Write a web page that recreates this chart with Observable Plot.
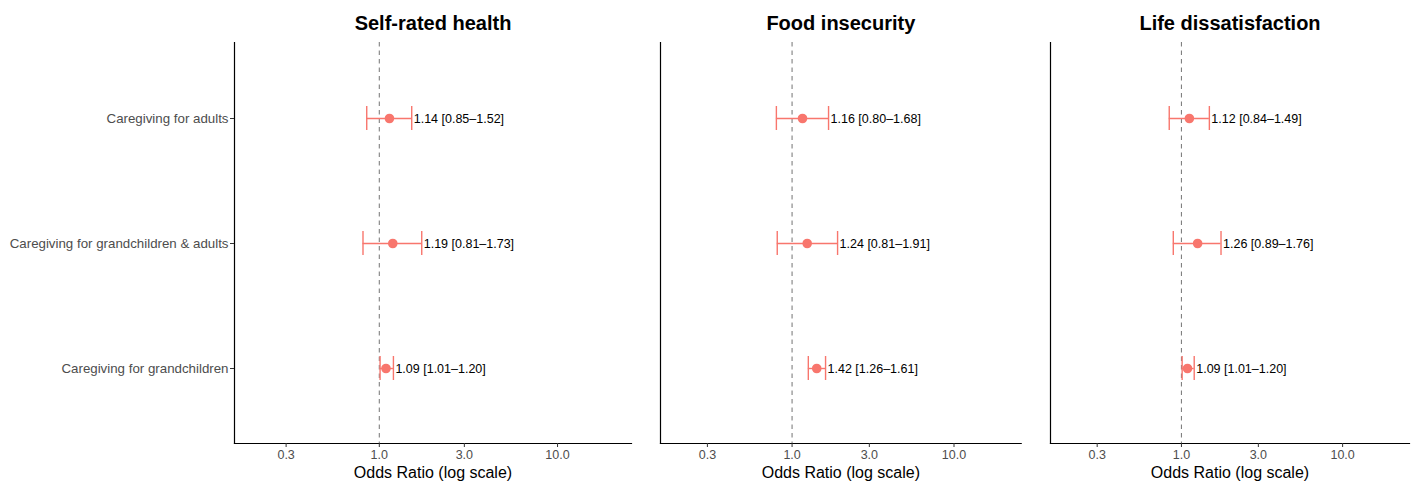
<!DOCTYPE html>
<html>
<head>
<meta charset="utf-8">
<script src="https://cdn.jsdelivr.net/npm/d3@7"></script>
<script src="https://cdn.jsdelivr.net/npm/@observablehq/plot@0.6"></script>
<style>
  html, body { margin: 0; padding: 0; background: #fff; }
  #wrap { position: relative; width: 1414px; height: 483px; overflow: hidden; background: #fff; }
  .panel { position: absolute; top: 0; }
  svg { overflow: visible; }
</style>
</head>
<body>
<div id="wrap"></div>
<script>
// ---- data ----
const outcomes = ["Self-rated health", "Food insecurity", "Life dissatisfaction"];
const categories = [
  "Caregiving for adults",
  "Caregiving for grandchildren & adults",
  "Caregiving for grandchildren"
];
const oddsRatio = [[1.14, 1.19, 1.09], [1.16, 1.24, 1.42], [1.12, 1.26, 1.09]];
const ciLower   = [[0.85, 0.81, 1.01], [0.80, 0.81, 1.26], [0.84, 0.89, 1.01]];
const ciUpper   = [[1.52, 1.73, 1.20], [1.68, 1.91, 1.61], [1.49, 1.76, 1.20]];
const xTicks = [0.3, 1, 3, 10];
const xTitle = "Odds Ratio (log scale)";

// ---- layout ----
const FONT = "'Liberation Sans', Arial, Helvetica, sans-serif";
const RED = "#F8766D";
const panels = [
  {left: 0,    width: 640, marginLeft: 234, marginRight: 9,   yLabels: true},
  {left: 640,  width: 390, marginLeft: 20,  marginRight: 9.3, yLabels: false},
  {left: 1030, width: 384, marginLeft: 20,  marginRight: 5,   yLabels: false}
];

const wrap = document.getElementById("wrap");

outcomes.forEach((title, k) => {
  const p = panels[k];
  const rows = categories.map((c, i) => ({
    cat: c,
    or: oddsRatio[k][i],
    lo: ciLower[k][i],
    hi: ciUpper[k][i],
    label: `${oddsRatio[k][i].toFixed(2)} [${ciLower[k][i].toFixed(2)}–${ciUpper[k][i].toFixed(2)}]`
  }));

  const marks = [
    Plot.ruleX([1], {stroke: "#808080", strokeWidth: 1.1, strokeDasharray: "4.5,4"}),
    Plot.ruleY(rows, {y: "cat", x1: "lo", x2: "hi", stroke: RED, strokeWidth: 1.4}),
    Plot.tickX(rows, {x: "lo", y: "cat", stroke: RED, strokeWidth: 1.4}),
    Plot.tickX(rows, {x: "hi", y: "cat", stroke: RED, strokeWidth: 1.4}),
    Plot.dot(rows, {x: "or", y: "cat", r: 4.8, fill: RED, stroke: "none"}),
    Plot.text(rows, {x: "hi", y: "cat", text: "label", textAnchor: "start", dx: 2, fontSize: 12.5, fill: "#000"}),
    Plot.frame({anchor: "left", stroke: "#000", strokeWidth: 1.2}),
    Plot.frame({anchor: "bottom", stroke: "#000", strokeWidth: 1.2}),
    Plot.axisX({
      ticks: xTicks, tickFormat: d => d.toFixed(1), tickSize: 4, tickPadding: 2.3,
      fontSize: 12.5, fill: "#4d4d4d", stroke: "#333", label: null
    }),
    Plot.text([xTitle], {frameAnchor: "bottom", lineAnchor: "bottom", dy: 34.3, fontSize: 16, fill: "#000"}),
    Plot.text([title], {frameAnchor: "top", lineAnchor: "bottom", dy: -13, fontSize: 20, fontWeight: "bold", fill: "#000"})
  ];
  if (p.yLabels) {
    marks.push(Plot.axisY({tickSize: 4, tickPadding: 2, fontSize: 13.3, fill: "#4d4d4d", stroke: "#333", label: null}));
  } else {
    marks.push(Plot.axisY({ticks: [], label: null}));
  }

  const chart = Plot.plot({
    width: p.width,
    height: 483,
    marginLeft: p.marginLeft,
    marginRight: p.marginRight,
    marginTop: 42,
    marginBottom: 40,
    style: {fontFamily: FONT, background: "transparent", overflow: "visible"},
    x: {type: "log", domain: [0.154, 26]},
    y: {type: "band", domain: categories, paddingInner: 0.808, paddingOuter: 0.504, align: 0.5},
    marks
  });
  const div = document.createElement("div");
  div.className = "panel";
  div.style.left = p.left + "px";
  div.appendChild(chart);
  wrap.appendChild(div);
});
</script>
</body>
</html>
